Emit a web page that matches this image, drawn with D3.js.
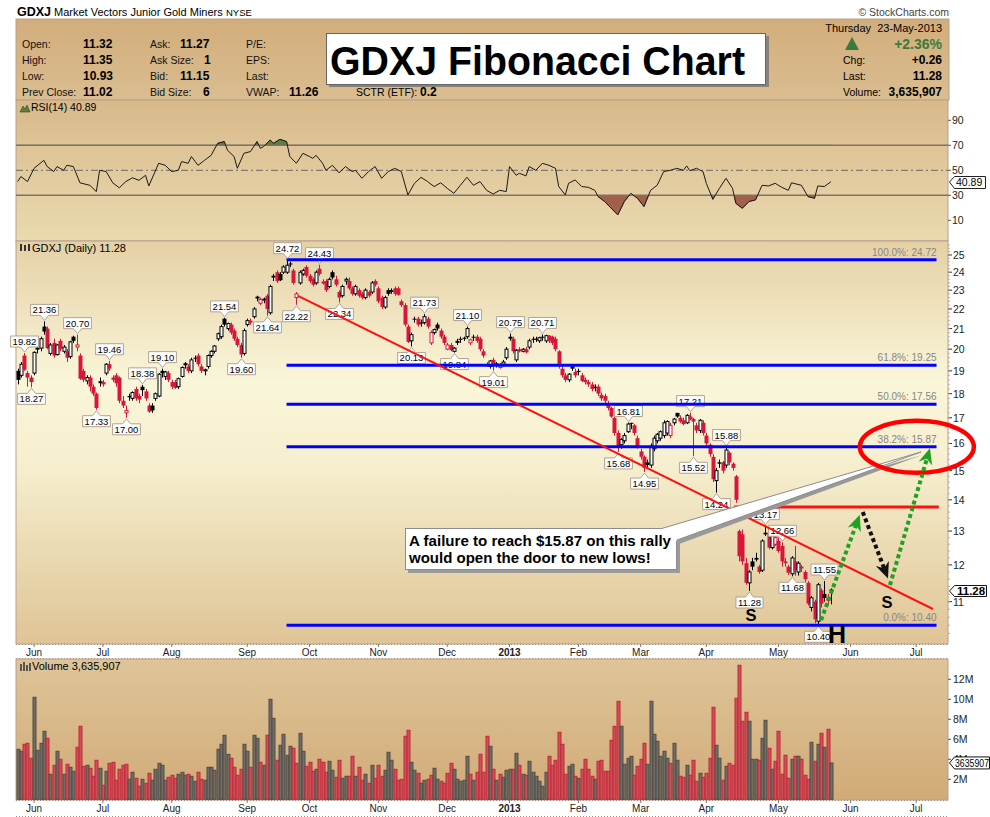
<!DOCTYPE html>
<html><head><meta charset="utf-8">
<script src="https://cdn.jsdelivr.net/npm/d3@7"></script>
<style>body{margin:0;background:#fff}svg{display:block}text{font-family:"Liberation Sans",Arial,sans-serif}</style>
</head><body><svg id="c" width="990" height="817"></svg>
<script>
// ---------- DATA ----------
const firstIdx = -5; // trading-day index of first candle (0 = 1-Jun-2012)
const opens = [
19.0,18.8,19.7,18.9,18.7,18.9,20.0,20.05,21.1,21.0,
19.8,20.3,19.75,20.4,19.9,19.9,19.65,20.6,20.1,19.7,
19.0,18.55,18.7,18.3,18.0,18.5,18.5,18.9,19.3,18.7,
18.8,18.7,17.7,17.2,17.9,17.8,18.2,17.9,18.3,18.1,
17.5,17.5,17.8,17.9,19.0,18.75,18.9,18.5,18.5,18.3,
18.75,19.35,19.2,19.0,19.6,19.7,19.2,19.0,19.2,19.7,
19.9,20.5,20.6,21.5,21.0,21.2,20.9,20.5,20.2,19.8,
21.2,21.4,21.6,22.65,22.3,22.5,22.7,21.8,23.8,24.0,
23.9,24.0,24.0,24.5,24.1,22.6,23.4,23.9,24.3,23.8,
23.6,23.4,24.2,23.4,23.5,23.2,24.0,23.6,22.9,22.7,
23.5,23.5,23.1,22.8,23.0,22.8,22.6,22.9,22.9,23.5,
23.1,22.6,22.1,23.0,23.0,23.1,23.1,22.4,22.2,21.1,
20.4,21.5,21.5,21.3,21.3,21.5,20.3,20.8,21.2,20.9,
20.6,20.0,20.2,19.9,20.4,20.5,20.55,20.6,20.3,20.6,
20.6,20.5,19.9,19.3,19.2,19.5,19.3,19.15,19.3,19.6,
20.6,20.5,19.5,20.0,19.9,20.0,20.1,20.5,20.5,20.4,
20.6,20.4,20.65,20.6,20.5,19.9,19.1,18.8,18.6,19.2,
18.95,19.0,18.8,18.6,18.5,18.4,18.3,18.3,17.95,17.9,
17.6,17.4,17.0,16.4,15.95,16.1,16.45,16.8,16.7,16.2,
15.7,15.5,15.3,15.2,15.8,16.1,16.2,16.3,16.4,16.3,
16.8,17.2,17.0,16.9,16.8,17.05,16.95,16.7,16.5,16.8,
16.3,15.95,15.5,14.65,15.3,15.3,15.2,15.65,15.25,14.8,
13.0,12.9,12.05,11.5,12.1,12.2,11.95,11.85,12.95,12.95,
12.5,12.6,12.7,12.55,12.1,11.95,11.75,12.1,11.8,11.95,
11.8,11.5,10.85,11.0,10.5,11.3,11.2,11.1,11.32];
const highs = [
19.1,19.4,19.82,19.0,18.8,19.9,20.2,20.6,21.36,21.1,
20.3,20.5,20.25,20.5,20.2,20.0,20.4,20.65,20.7,19.8,
19.1,18.8,18.8,18.4,18.05,18.7,18.6,19.35,19.46,18.8,
18.9,18.75,17.9,17.5,18.0,18.1,18.3,18.0,18.38,18.2,
17.6,17.6,18.05,18.9,19.1,19.0,19.0,18.6,18.6,18.7,
19.2,19.4,19.3,19.6,19.7,19.8,19.3,19.1,19.75,19.95,
20.2,20.8,21.2,21.54,21.3,21.3,21.0,20.6,20.3,21.0,
21.5,21.5,22.1,22.7,22.6,22.6,22.8,23.3,23.9,24.1,
24.0,24.4,24.72,24.6,24.2,22.9,24.1,24.2,24.4,23.9,
23.7,24.1,24.43,23.6,23.6,23.7,24.1,23.8,23.0,23.3,
23.7,23.7,23.2,23.3,23.1,22.9,23.1,23.0,23.5,23.6,
23.2,22.7,22.7,23.1,23.1,23.2,23.2,22.5,22.3,21.2,
20.8,21.6,21.6,21.45,21.73,21.6,20.9,21.0,21.3,21.0,
20.7,20.3,20.3,20.1,20.5,20.6,20.6,21.1,20.5,20.7,
20.7,20.6,20.0,19.4,19.5,19.6,19.4,19.35,19.5,20.1,
20.75,20.6,20.0,20.1,20.05,20.1,20.5,20.6,20.6,20.6,
20.71,20.7,20.68,20.65,20.6,19.95,19.2,18.9,18.9,19.3,
19.1,19.1,18.9,18.7,18.6,18.5,18.4,18.4,18.05,18.0,
17.7,17.45,17.05,16.5,16.2,16.4,16.81,16.8,16.75,16.3,
15.8,15.55,15.4,16.0,16.3,16.4,16.5,16.9,16.9,16.8,
17.0,17.2,17.1,17.0,17.15,17.21,17.0,16.8,16.95,16.9,
16.4,16.0,15.6,15.1,15.4,15.35,15.88,15.7,15.3,14.85,
13.05,13.05,12.2,11.85,12.2,12.35,12.0,12.75,13.17,13.05,
12.95,12.85,12.8,12.66,12.2,12.0,12.25,12.55,12.1,12.0,
11.85,11.55,11.15,11.05,11.5,11.35,11.55,11.2,11.35];
const lows = [
18.4,18.7,19.0,18.3,18.27,18.8,19.8,19.9,20.7,20.0,
19.7,19.6,19.7,19.9,19.8,19.4,19.55,20.3,19.9,18.6,
18.5,18.4,18.1,17.9,17.33,18.3,18.3,18.8,19.0,18.5,
18.3,17.6,17.4,17.0,17.7,17.7,17.7,17.6,17.9,17.7,
17.2,17.2,17.7,17.85,18.7,18.6,18.5,18.2,18.2,18.2,
18.7,19.1,18.9,18.9,19.4,19.2,18.9,18.8,19.1,19.6,
19.8,20.4,20.5,21.1,20.9,20.7,20.4,20.1,19.6,19.7,
21.1,21.2,21.5,22.4,22.2,22.3,21.64,21.7,23.5,23.4,
23.5,23.9,23.9,24.3,23.3,22.22,23.3,23.8,23.7,23.4,
23.2,23.3,23.8,23.3,22.9,23.1,23.6,23.2,22.34,22.6,
23.3,23.0,22.7,22.7,22.6,22.5,22.5,22.6,22.8,23.2,
22.3,22.0,22.0,22.7,22.8,22.7,22.7,22.1,21.1,20.3,
20.13,21.3,21.1,21.1,21.2,21.0,20.2,20.7,20.9,20.5,
20.2,19.95,19.9,19.84,20.2,20.3,20.4,20.5,20.2,20.4,
20.3,19.9,19.6,19.2,19.1,19.01,19.15,19.1,19.2,19.5,
20.4,19.8,19.4,19.85,19.85,19.8,20.0,20.3,20.35,20.3,
20.4,20.3,20.3,20.2,19.9,19.1,18.7,18.5,18.5,19.0,
18.7,18.8,18.5,18.4,18.3,18.1,18.1,17.9,17.7,17.6,
17.3,17.0,16.3,15.68,15.8,16.0,16.4,16.55,16.3,15.8,
15.4,14.95,15.1,15.1,15.7,16.0,16.1,16.2,16.3,16.2,
16.7,17.0,16.8,16.7,16.75,16.9,15.52,16.4,16.4,16.3,
15.9,15.5,14.6,14.24,15.1,14.9,15.1,15.2,15.0,13.9,
12.1,12.0,11.45,11.28,11.85,12.1,11.75,11.8,12.85,12.45,
12.45,12.55,12.35,11.95,11.95,11.72,11.68,11.7,11.7,11.8,
11.5,10.9,10.75,10.45,10.40,10.85,11.0,10.9,10.93];
const closes = [
18.6,19.3,19.05,18.7,18.5,19.85,20.05,20.5,20.85,20.05,
20.2,19.7,20.2,20.0,20.1,19.6,20.35,20.4,20.2,18.65,
18.6,18.7,18.3,18.0,17.4,18.52,18.4,19.3,19.1,18.6,
18.45,17.7,17.5,17.3,17.85,18.05,17.8,17.75,18.15,17.8,
17.25,17.3,18.0,18.85,18.9,18.95,18.6,18.3,18.25,18.65,
19.15,19.25,19.0,19.5,19.55,19.3,19.0,19.05,19.7,19.9,
20.15,20.75,21.1,21.2,21.25,20.8,20.5,20.2,19.75,20.9,
21.4,21.3,22.0,22.55,22.5,22.52,22.0,23.2,23.7,23.5,
23.55,24.3,24.4,24.45,23.4,22.8,24.0,24.1,23.8,23.5,
23.3,24.0,23.9,23.45,23.0,23.6,23.7,23.3,22.6,23.2,
23.6,23.1,22.8,23.2,22.7,22.6,23.0,22.7,23.4,23.3,
22.4,22.1,22.6,22.8,22.9,22.8,22.75,22.2,21.2,20.35,
20.7,21.45,21.2,21.25,21.6,21.1,20.8,20.95,21.0,20.6,
20.3,20.2,19.95,20.05,20.3,20.45,20.5,21.0,20.45,20.55,
20.4,20.0,19.7,19.25,19.45,19.3,19.32,19.3,19.4,20.0,
20.5,19.9,19.95,19.9,20.0,19.85,20.4,20.45,20.48,20.55,
20.58,20.65,20.4,20.3,20.0,19.2,18.8,18.6,18.85,19.1,
18.8,18.95,18.55,18.5,18.4,18.2,18.25,18.0,17.8,17.7,
17.4,17.05,16.4,15.9,16.15,16.3,16.75,16.78,16.4,15.9,
15.5,15.1,15.2,15.9,16.2,16.35,16.45,16.8,16.85,16.7,
16.95,17.05,16.85,16.75,17.1,16.95,16.85,16.5,16.9,16.4,
16.0,15.6,14.7,15.0,15.25,15.0,15.75,15.3,15.1,14.0,
12.25,12.1,11.5,11.8,11.95,12.15,11.8,12.7,12.9,12.5,
12.9,12.8,12.4,12.1,12.05,11.78,12.2,11.85,12.05,11.9,
11.6,10.95,11.1,10.55,11.45,10.95,11.1,11.02,11.28];
// volume in millions
const volumes = [
5.0,4.8,5.5,5.6,4.1,10.2,4.9,5.6,6.8,6.1,
2.5,3.4,4.8,4.0,2.5,3.5,3.2,2.8,5.2,7.3,
3.3,3.4,3.1,2.3,3.9,3.1,1.4,2.8,3.6,3.7,
1.9,3.0,3.4,3.5,2.0,2.7,2.1,1.3,2.0,1.6,
2.6,1.9,3.0,3.6,3.4,1.9,2.2,2.4,2.1,2.5,
2.7,2.4,2.5,2.3,1.8,2.7,2.0,1.9,3.2,3.2,
2.9,5.0,5.5,6.4,4.5,4.1,3.2,2.4,3.0,5.5,
4.8,3.2,6.4,6.1,3.7,3.4,6.4,10.0,8.1,3.9,
5.4,6.5,4.4,5.3,5.1,3.6,6.6,4.8,3.3,3.7,
2.8,3.0,4.0,3.7,2.7,3.8,2.9,2.2,3.9,
2.1,2.3,2.3,4.3,2.3,3.2,1.9,2.5,1.6,3.4,
2.1,3.4,2.3,2.9,4.7,3.9,3.0,1.9,2.0,6.3,
6.9,3.7,2.9,2.6,1.6,1.9,2.0,2.4,3.1,2.0,
1.8,1.6,2.6,3.6,3.0,2.0,1.8,1.9,4.3,2.5,
1.9,2.7,4.5,2.7,6.3,
5.3,3.0,1.9,2.5,2.2,2.9,3.0,3.0,4.6,3.4,
2.5,2.4,3.8,2.7,2.3,1.8,1.3,2.7,4.3,3.4,
3.9,6.7,5.5,2.5,3.3,3.5,2.3,2.1,3.0,4.0,
3.0,2.3,2.0,3.8,3.9,2.8,2.8,5.9,7.3,9.8,
7.3,3.5,4.1,4.3,2.4,3.3,4.0,5.6,3.5,9.8,
6.5,5.8,4.3,4.8,4.1,3.6,5.6,3.9,2.3,2.2,
3.4,2.4,3.9,1.8,2.6,2.2,2.6,4.1,9.2,5.4,
4.1,1.9,3.3,3.6,3.4,10.1,13.4,7.8,8.7,7.8,
4.0,4.0,3.9,6.1,7.9,5.1,3.0,3.8,6.8,2.5,
4.4,2.1,4.0,4.3,4.3,4.0,2.4,2.0,5.7,3.8,
5.5,6.6,5.2,7.0,3.635907];
// RSI(14) readings: trading-day index and value
const rsiIdx = [-5,-4,-2,0,3,4,6,7,9,10,12,14,17,19,20,22,24,26,28,30,32,34,35,38,40,42,44,45,47,48,
50,52,54,56,58,59,61,62,64,66,68,69,70,72,73,75,77,78,80,82,84,85,86,88,89,91,93,95,97,98,
100,102,104,106,108,110,112,114,116,118,120,122,124,126,128,130,132,134,136,138,140,142,144,145,147,148,150,151,153,155,
157,159,160,162,163,165,167,169,171,172,174,178,180,182,184,186,188,190,192,194,196,198,199,200,202,204,205,207,209,211,
213,214,216,218,220,222,224,226,228,230,231,234,236,238,239,241,243];
const rsiVal = [41,45,41,51.6,58,53,49,53,50,54,53,40,38,33,50,49,40,36,41,44,42,46,37.5,55.6,54,49,50,57,55.6,61,
54,58,62,71.6,73,66,61,51.6,63.6,65,73,67.6,69,74.3,71.6,74.8,73,61,55.6,63.6,61,59.6,62,55.6,50,54,48,53,49,50,
43.6,49,53,43.6,49,51.6,49,30.3,39.6,44.4,41,37,40,35.6,31.6,38,44.4,38,41,34,31,34,33,53,46,47.6,45.5,53,50,55.6,
54,51.6,37,30.3,39.6,42.3,37,36.4,34,29,25,14.3,25,31.6,27.6,21,34,38,49,50,51.6,50,53.5,49.7,51.6,49,39.6,26.8,35.6,43.6,
35.6,23.6,19.6,25,26.3,38,37.5,39.6,36.4,34,40,38,29,27.6,37.5,37,40.89];
// high/low annotations (trading-day index, price)
const hiLabIdx = [-3,3,13,23,33,39,58,77,87,119,132,145,155,181,200,211,223,228,241];
const hiLabVal = [19.82,21.36,20.70,19.46,18.38,19.10,21.54,24.72,24.43,21.73,21.10,20.75,20.71,16.81,17.21,15.88,13.17,12.66,11.55];
const loLabIdx = [-1,19,28,63,71,80,93,115,128,140,178,186,201,208,218,231,239];
const loLabVal = [18.27,17.33,17.00,19.60,21.64,22.22,22.34,20.13,19.84,19.01,15.68,14.95,15.52,14.24,11.28,11.68,10.40];
// Fibonacci retracement levels
const fibPct = ["100.0%","61.8%","50.0%","38.2%","0.0%"];
const fibVal = [24.72,19.25,17.56,15.87,10.40];
const fibFrom = 77, fibTo = 275.2;
// month axis
const monthNames = ["Jun","Jul","Aug","Sep","Oct","Nov","Dec","2013","Feb","Mar","Apr","May","Jun","Jul"];
const monthIdx = [0,21,42,65,84,105,126,145,166,185,205,227,249,269];
const priceTicks = [11,12,13,14,15,16,17,18,19,20,21,22,23,24,25];
const rsiTicks = [90,70,50,30,10];
const volTicks = [2,4,6,8,10,12];
// drawn annotations in data space [index, price]
const trendLine = [[80.5,22.69],[274.1,10.81]];
const resistLine = [[213.4,13.76],[275.9,13.76]];
const greenArrows = [[[240,10.53],[251.8,13.51]],[[261,11.44],[273.2,15.82]]];
const blackArrow = [[252.7,13.6],[260.4,11.62]];
const ellipseC = [269.2,15.87];

// ---------- SCALES ----------
const svg = d3.select('#c');
const L = 16, R = 948;
const x = d3.scaleLinear().domain([-5.5, 278.7]).range([L, R]);
const yP = d3.scaleLog().domain([9.95, 25.84]).range([644, 241]);
const yR = d3.scaleLinear().domain([30, 70]).range([195.3, 145.3]);
const yV = d3.scaleLinear().domain([0, 12]).range([799.3, 679.3]);
const N = closes.length;
const days = d3.range(N).map(k => k + firstIdx);
const P = ([i, p]) => [x(i), yP(p)];
const DV = '"DejaVu Sans",Verdana,sans-serif';

const defs = svg.append('defs');
function vgrad(id, stops) {
  const g = defs.append('linearGradient').attr('id', id).attr('x1', 0).attr('y1', 0).attr('x2', 0).attr('y2', 1);
  stops.forEach(([o, c]) => g.append('stop').attr('offset', o).attr('stop-color', c));
}
vgrad('gHead', [[0, '#d2ad7c'], [1, '#dabd90']]);
vgrad('gRsi', [[0, '#d8b98a'], [1, '#eadaaf']]);
vgrad('gPrice', [[0, '#e5d0a5'], [0.35, '#faf6d9'], [0.55, '#f6efcf'], [1, '#dfc496']]);
vgrad('gVol', [[0, '#dec598'], [1, '#d2aa78']]);
const border = '#b89f8f';

// ---------- TOP TITLE ----------
svg.append('text').attr('x', 17).attr('y', 16).attr('font-size', 12.5).attr('font-weight', 'bold').text('GDXJ');
svg.append('text').attr('x', 54).attr('y', 16).attr('font-size', 11).text('Market Vectors Junior Gold Miners');
svg.append('text').attr('x', 226).attr('y', 16).attr('font-size', 9.5).text('NYSE');
svg.append('text').attr('x', 949).attr('y', 16).attr('font-size', 10.5).attr('text-anchor', 'end').attr('fill', '#444').text('\u00A9 StockCharts.com');

// ---------- HEADER PANEL ----------
svg.append('rect').attr('x', L).attr('y', 19).attr('width', R - L + 1).attr('height', 81).attr('fill', 'url(#gHead)').attr('stroke', border);
const hRows = [48, 64, 80, 96];
const hdr = [
  [22, 'Open:', 83, '11.32'], [22, 'High:', 83, '11.35'], [22, 'Low:', 83, '10.93'], [22, 'Prev Close:', 83, '11.02'],
  [150, 'Ask:', 180, '11.27'], [150, 'Ask Size:', 204, '1'], [150, 'Bid:', 180, '11.15'], [150, 'Bid Size:', 203, '6'],
  [246, 'P/E:', 0, ''], [246, 'EPS:', 0, ''], [246, 'Last:', 0, ''], [246, 'VWAP:', 289, '11.26']];
hdr.forEach((d, k) => {
  const y = hRows[k % 4];
  svg.append('text').attr('x', d[0]).attr('y', y).attr('font-size', 10.5).attr('fill', '#111').text(d[1]);
  if (d[3]) svg.append('text').attr('x', d[2]).attr('y', y).attr('font-size', 12).attr('font-weight', 'bold').text(d[3]);
});
svg.append('text').attr('x', 356).attr('y', 96).attr('font-size', 10.5).text('SCTR (ETF):');
svg.append('text').attr('x', 420).attr('y', 96).attr('font-size', 12).attr('font-weight', 'bold').text('0.2');
svg.append('text').attr('x', 942).attr('y', 32).attr('font-size', 11).attr('text-anchor', 'end').attr('xml:space', 'preserve').text('Thursday  23-May-2013');
svg.append('path').attr('d', 'M852,37 L859,50 L845,50 Z').attr('fill', '#3b7a3b');
svg.append('text').attr('x', 942).attr('y', 49).attr('font-size', 14).attr('font-weight', 'bold').attr('fill', '#3b7a3b').attr('text-anchor', 'end').text('+2.36%');
[['Chg:', '+0.26', 64], ['Last:', '11.28', 80], ['Volume:', '3,635,907', 96]].forEach(d => {
  svg.append('text').attr('x', 843).attr('y', d[2]).attr('font-size', 10.5).text(d[0]);
  svg.append('text').attr('x', 942).attr('y', d[2]).attr('font-size', 12).attr('font-weight', 'bold').attr('text-anchor', 'end').text(d[1]);
});
// Big title box
svg.append('rect').attr('x', 329).attr('y', 36).attr('width', 440).attr('height', 51).attr('fill', '#8a8178');
svg.append('rect').attr('x', 326.5).attr('y', 33.5).attr('width', 439).attr('height', 51).attr('fill', '#fff').attr('stroke', '#666');
svg.append('text').attr('x', 330).attr('y', 75).attr('font-size', 40).attr('font-weight', 'bold').attr('textLength', 415).attr('lengthAdjust', 'spacingAndGlyphs').text('GDXJ Fibonacci Chart');

// ---------- RSI PANEL ----------
svg.append('rect').attr('x', L).attr('y', 100).attr('width', R - L).attr('height', 141).attr('fill', 'url(#gRsi)').attr('stroke', border);
defs.append('clipPath').attr('id', 'cpOB').append('rect').attr('x', L).attr('y', 100).attr('width', R - L).attr('height', yR(70) - 100);
defs.append('clipPath').attr('id', 'cpOS').append('rect').attr('x', L).attr('y', yR(30)).attr('width', R - L).attr('height', 241 - yR(30));
const rsiPts = rsiIdx.map((i, k) => ({i, v: rsiVal[k]}));
svg.append('path').datum(rsiPts).attr('clip-path', 'url(#cpOB)').attr('fill', '#5f7d3c').attr('stroke', '#2e4a1c').attr('stroke-width', 0.6)
  .attr('d', d3.area().x(d => x(d.i)).y0(yR(70)).y1(d => yR(d.v)));
svg.append('path').datum(rsiPts).attr('clip-path', 'url(#cpOS)').attr('fill', '#a0604c').attr('stroke', '#6b3526').attr('stroke-width', 0.6)
  .attr('d', d3.area().x(d => x(d.i)).y0(yR(30)).y1(d => yR(d.v)));
[70, 30].forEach(v => svg.append('line').attr('x1', L).attr('x2', R).attr('y1', yR(v)).attr('y2', yR(v)).attr('stroke', '#7d736b').attr('stroke-width', 1.5));
svg.append('line').attr('x1', L).attr('x2', R).attr('y1', yR(50)).attr('y2', yR(50)).attr('stroke', '#857a72').attr('stroke-width', 1.2).attr('stroke-dasharray', '7,3,2,3');
svg.append('path').datum(rsiPts).attr('fill', 'none').attr('stroke', '#1a1a1a').attr('stroke-width', 1)
  .attr('d', d3.line().x(d => x(d.i)).y(d => yR(d.v)));
rsiTicks.forEach(v => {
  svg.append('line').attr('x1', R).attr('x2', R + 3).attr('y1', yR(v)).attr('y2', yR(v)).attr('stroke', '#555');
  svg.append('text').attr('x', 952).attr('y', yR(v) + 4).attr('font-size', 10.5).attr('fill', '#222').text(v);
});
svg.append('path').attr('d', 'M20,112 L23,106 L25,109 L27,105 L30,112 Z').attr('fill', '#5f7d3c').attr('stroke', '#2e4a1c').attr('stroke-width', 0.6);
svg.append('text').attr('x', 31).attr('y', 111).attr('font-size', 10.5).attr('font-family', DV).text('RSI(14) 40.89');
// RSI tag
svg.append('path').attr('d', 'M949.5,182 L954.5,176.5 L985.5,176.5 L985.5,188.5 L954.5,188.5 Z').attr('fill', '#fff').attr('stroke', '#222');
svg.append('text').attr('x', 956).attr('y', 186).attr('font-size', 10.5).text('40.89');

// ---------- PRICE PANEL ----------
svg.append('rect').attr('x', L).attr('y', 241).attr('width', R - L).attr('height', 403).attr('fill', 'url(#gPrice)').attr('stroke', border);
const gC = svg.append('g');
days.forEach((d, k) => {
  const o = opens[k], h = highs[k], l = lows[k], c = closes[k];
  const down = k > 0 && c < closes[k - 1];
  const col = down ? '#d6163a' : '#000';
  const cx = Math.round(x(d)) + 0.5;
  gC.append('line').attr('x1', cx).attr('x2', cx).attr('y1', yP(h)).attr('y2', yP(l)).attr('stroke', col).attr('stroke-width', 1);
  const top = yP(Math.max(o, c)), bot = yP(Math.min(o, c));
  if (c >= o) gC.append('rect').attr('x', cx - 1.5).attr('y', top).attr('width', 3).attr('height', Math.max(bot - top, 1)).attr('fill', '#fff').attr('stroke', col).attr('stroke-width', 1);
  else gC.append('rect').attr('x', cx - 2).attr('y', top).attr('width', 4).attr('height', Math.max(bot - top, 1)).attr('fill', col);
});
// hi/lo labels
const gL = svg.append('g');
function lab(i, v, isHigh) {
  const cx = Math.round(x(i)) + 0.5;
  const g = gL.append('g');
  const t = g.append('text').attr('font-size', 9.5).attr('text-anchor', 'middle').text(v.toFixed(2));
  const w = t.node().getComputedTextLength() + 4, hgt = 11;
  let bx = cx - w / 2, by, d;
  if (isHigh) {
    const tip = yP(v) - 1; const bb = tip - 5; by = bb - hgt;
    d = `M${bx},${by}H${bx + w}V${bb}H${cx + 4}L${cx},${tip}L${cx - 4},${bb}H${bx}Z`;
  } else {
    const tip = yP(v) + 1; by = tip + 5;
    d = `M${bx},${by}H${cx - 4}L${cx},${tip}L${cx + 4},${by}H${bx + w}V${by + hgt}H${bx}Z`;
  }
  g.insert('path', 'text').attr('d', d).attr('fill', '#fff').attr('stroke', '#b3a194').attr('stroke-width', 1);
  t.attr('x', cx).attr('y', by + 9);
}
hiLabIdx.forEach((i, k) => lab(i, hiLabVal[k], true));
loLabIdx.forEach((i, k) => lab(i, loLabVal[k], false));
// fib lines
fibVal.forEach((v, k) => {
  svg.append('line').attr('x1', x(fibFrom)).attr('x2', x(fibTo)).attr('y1', yP(v)).attr('y2', yP(v)).attr('stroke', '#0000ff').attr('stroke-width', 3);
  svg.append('text').attr('x', x(fibTo)).attr('y', yP(v) - 4).attr('font-size', 10).attr('text-anchor', 'end').attr('fill', '#8a8580').text(fibPct[k] + ': ' + v.toFixed(2));
});
// trend lines
svg.append('line').attr('x1', P(trendLine[0])[0]).attr('y1', P(trendLine[0])[1]).attr('x2', P(trendLine[1])[0]).attr('y2', P(trendLine[1])[1]).attr('stroke', '#ff1010').attr('stroke-width', 2);
svg.append('line').attr('x1', P(resistLine[0])[0]).attr('y1', P(resistLine[0])[1]).attr('x2', P(resistLine[1])[0]).attr('y2', P(resistLine[1])[1]).attr('stroke', '#ff1010').attr('stroke-width', 3);
// callout
const tipPt = [921, 452];
svg.append('path').attr('d', `M662,531 L${tipPt[0] + 1},${tipPt[1] + 3} L679,544 Z`).attr('fill', '#999');
svg.append('rect').attr('x', 408).attr('y', 531).attr('width', 272).attr('height', 42).attr('fill', '#9a9a9a');
svg.append('rect').attr('x', 405.5).attr('y', 528.5).attr('width', 271).attr('height', 41).attr('fill', '#fff').attr('stroke', '#8c8c8c');
svg.append('path').attr('d', `M660,529 L${tipPt[0]},${tipPt[1]} L677,540`).attr('fill', '#fff').attr('stroke', '#8c8c8c').attr('stroke-width', 1);
svg.append('rect').attr('x', 660).attr('y', 529.2).attr('width', 16.5).attr('height', 12).attr('fill', '#fff');
svg.append('text').attr('x', 409).attr('y', 546).attr('font-size', 15).attr('font-weight', 'bold').attr('textLength', 262).attr('lengthAdjust', 'spacingAndGlyphs').text('A failure to reach $15.87 on this rally');
svg.append('text').attr('x', 409).attr('y', 563).attr('font-size', 15).attr('font-weight', 'bold').text('would open the door to new lows!');
// ellipse
svg.append('ellipse').attr('cx', x(ellipseC[0])).attr('cy', yP(ellipseC[1])).attr('rx', 57).attr('ry', 26).attr('fill', 'none').attr('stroke', '#ff0000').attr('stroke-width', 4.5);
// arrows
function arrow(a, b, col) {
  const [x1, y1] = P(a), [x2, y2] = P(b);
  const ang = Math.atan2(y2 - y1, x2 - x1), len = Math.hypot(x2 - x1, y2 - y1);
  const g = svg.append('g').attr('transform', `translate(${x1},${y1}) rotate(${ang * 180 / Math.PI})`);
  g.append('line').attr('x1', 0).attr('y1', 0).attr('x2', len - 10).attr('y2', 0).attr('stroke', col).attr('stroke-width', 4).attr('stroke-dasharray', '4,3');
  g.append('path').attr('d', `M${len},0 L${len - 16},-7 L${len - 11},0 L${len - 16},7 Z`).attr('fill', col);
}
greenArrows.forEach(a => arrow(a[0], a[1], '#22a022'));
arrow(blackArrow[0], blackArrow[1], '#111');
// S H S letters
svg.append('text').attr('x', 751).attr('y', 621).attr('font-size', 16.5).attr('font-weight', 'bold').attr('text-anchor', 'middle').text('S');
svg.append('text').attr('x', 887).attr('y', 608).attr('font-size', 16.5).attr('font-weight', 'bold').attr('text-anchor', 'middle').text('S');
svg.append('text').attr('x', 837).attr('y', 643).attr('font-size', 25).attr('font-weight', 'bold').attr('text-anchor', 'middle').text('H');
// price label
svg.append('g').call(g => {
  g.append('rect').attr('x', 20).attr('y', 244).attr('width', 2).attr('height', 7).attr('fill', '#333');
  g.append('rect').attr('x', 24).attr('y', 245).attr('width', 2).attr('height', 6).attr('fill', '#333');
  g.append('rect').attr('x', 28).attr('y', 244).attr('width', 2).attr('height', 7).attr('fill', '#333');
});
svg.append('text').attr('x', 32).attr('y', 252).attr('font-size', 11).attr('font-family', DV).text('GDXJ (Daily) 11.28');
// price axis
priceTicks.forEach(v => {
  svg.append('line').attr('x1', R).attr('x2', R + 4).attr('y1', yP(v)).attr('y2', yP(v)).attr('stroke', '#333');
  svg.append('text').attr('x', 953).attr('y', yP(v) + 4).attr('font-size', 10.5).attr('fill', '#222').text(v);
});
d3.range(10.2, 25.8, 0.2).forEach(v => svg.append('line').attr('x1', R).attr('x2', R + 2).attr('y1', yP(v)).attr('y2', yP(v)).attr('stroke', '#b79a8c').attr('stroke-width', 0.8));
const py = yP(11.28);
svg.append('path').attr('d', `M949.5,${py} L954.5,${py - 5.5} L986.5,${py - 5.5} L986.5,${py + 5.5} L954.5,${py + 5.5} Z`).attr('fill', '#fff').attr('stroke', '#111');
svg.append('text').attr('x', 957).attr('y', py + 4).attr('font-size', 11.5).attr('font-weight', 'bold').text('11.28');

// ---------- DATE AXES ----------
function dateAxis(yTop, yBot, yText) {
  svg.append('line').attr('x1', L).attr('x2', R).attr('y1', yTop + 0.5).attr('y2', yTop + 0.5).attr('stroke', '#a58b7c').attr('stroke-dasharray', '1,2');
  svg.append('line').attr('x1', L).attr('x2', R).attr('y1', yBot + 0.5).attr('y2', yBot + 0.5).attr('stroke', '#a58b7c').attr('stroke-dasharray', '1,2');
  monthIdx.forEach((i, k) => {
    svg.append('line').attr('x1', x(i)).attr('x2', x(i)).attr('y1', yTop).attr('y2', yTop + 3).attr('stroke', '#8c7567');
    svg.append('text').attr('x', x(i)).attr('y', yText).attr('font-size', 10).attr('font-family', DV).attr('text-anchor', 'middle')
      .attr('font-weight', monthNames[k] === '2013' ? 'bold' : 'normal').attr('fill', '#222').text(monthNames[k]);
  });
}
dateAxis(644, 658, 656);

// ---------- VOLUME PANEL ----------
svg.append('rect').attr('x', L).attr('y', 659).attr('width', R - L).attr('height', 141).attr('fill', 'url(#gVol)').attr('stroke', border);
days.forEach((d, k) => {
  const down = k > 0 && closes[k] < closes[k - 1];
  const cx = Math.round(x(d)) + 0.5;
  svg.append('rect').attr('x', cx - 1.5).attr('y', yV(volumes[k])).attr('width', 3).attr('height', yV(0) - yV(volumes[k]))
    .attr('fill', down ? '#cd5257' : '#736d64').attr('stroke', down ? '#c2263a' : '#514c46').attr('stroke-width', 1);
});
volTicks.forEach(v => {
  svg.append('line').attr('x1', R).attr('x2', R + 3).attr('y1', yV(v)).attr('y2', yV(v)).attr('stroke', '#555');
  svg.append('text').attr('x', 953).attr('y', yV(v) + 4).attr('font-size', 10.5).attr('fill', '#222').text(v + 'M');
});
svg.append('g').call(g => {
  [[20, 664, 7], [23, 662, 9], [26, 665, 6], [29, 663, 8]].forEach(b => g.append('rect').attr('x', b[0]).attr('y', b[1]).attr('width', 2).attr('height', b[2]).attr('fill', '#555'));
});
svg.append('text').attr('x', 32).attr('y', 670).attr('font-size', 11).attr('font-family', DV).text('Volume 3,635,907');
const vy = yV(3.635907);
svg.append('path').attr('d', `M949.5,${vy} L954.5,${vy - 6} L989.5,${vy - 6} L989.5,${vy + 6} L954.5,${vy + 6} Z`).attr('fill', '#fff').attr('stroke', '#111');
svg.append('text').attr('x', 955).attr('y', vy + 4).attr('font-size', 10).attr('textLength', 34).attr('lengthAdjust', 'spacingAndGlyphs').text('3635907');
dateAxis(800, 816, 812);
</script></body></html>
